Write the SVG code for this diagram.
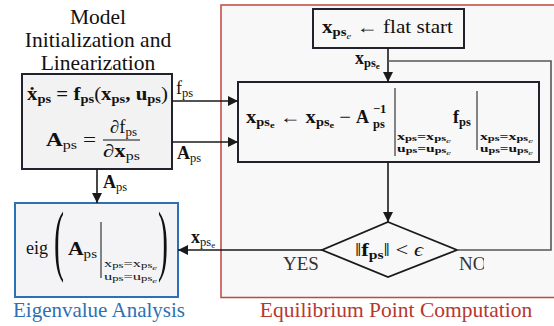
<svg xmlns="http://www.w3.org/2000/svg" width="554" height="326" viewBox="0 0 554 326">
<defs>
<marker id="ah" viewBox="0 0 10 10" refX="10" refY="5" markerWidth="10" markerHeight="10" markerUnits="userSpaceOnUse" orient="auto">
<path d="M0,0 L10,5 L0,10 z" fill="#1a1a1a"/>
</marker>
<clipPath id="noclip"><rect x="440" y="250" width="44" height="30"/></clipPath>
</defs>
<style>
text{font-family:'Liberation Serif','DejaVu Serif',serif;fill:#111}
.b{font-weight:bold}
.i{font-style:italic}
.m{font-size:18px}
.s{font-size:12.5px}
.ss{font-size:11px}
.cd{font-size:9.5px;font-weight:bold}
.c{stroke:#1a1a1a;stroke-width:1.6;fill:none}
.l{stroke:#555;stroke-width:1.6;fill:none}
</style>
<rect width="554" height="326" fill="#fff"/>

<g id="eq-region">
<rect x="221" y="5" width="340" height="292.5" fill="#f8f8f8" stroke="#c0473d" stroke-width="1.5"/>
<text x="396" y="317" font-size="21.5" text-anchor="middle" style="fill:#b8372f">Equilibrium Point Computation</text>
</g>

<g id="model">
<text x="98" y="24" font-size="21.5" text-anchor="middle">Model</text>
<text x="98" y="47" font-size="21.5" text-anchor="middle">Initialization and</text>
<text x="98" y="70" font-size="21.5" text-anchor="middle">Linearization</text>
<rect x="22" y="74" width="150" height="95" fill="#f2f2f3" stroke="#22222e" stroke-width="2"/>
<text class="b m" x="27" y="100" textLength="141" lengthAdjust="spacingAndGlyphs">ẋ<tspan class="s" dy="3">ps</tspan><tspan dy="-3"> = f</tspan><tspan class="s" dy="3">ps</tspan><tspan dy="-3" font-weight="normal">(</tspan>x<tspan class="s" dy="3">ps</tspan><tspan dy="-3">, u</tspan><tspan class="s" dy="3">ps</tspan><tspan dy="-3" font-weight="normal">)</tspan></text>
<text class="m" x="46" y="146" textLength="50" lengthAdjust="spacingAndGlyphs"><tspan class="b">A</tspan><tspan class="s" dy="3">ps</tspan><tspan dy="-3"> =</tspan></text>
<text class="m" x="110" y="133" textLength="27" lengthAdjust="spacingAndGlyphs"><tspan class="i">∂</tspan>f<tspan class="s" dy="3">ps</tspan></text>
<line x1="103" y1="140" x2="140" y2="140" stroke="#111" stroke-width="1"/>
<text class="m" x="103" y="157" textLength="37" lengthAdjust="spacingAndGlyphs"><tspan class="i">∂</tspan><tspan class="b">x</tspan><tspan class="s" dy="3">ps</tspan></text>
</g>

<g id="eigen">
<rect x="15" y="203" width="163" height="94" fill="#f4f4f6" stroke="#2e70b4" stroke-width="2"/>
<text class="m" x="26" y="254">eig</text>
<text font-size="30" transform="translate(54,266) scale(1,2.6)">(</text>
<text font-size="30" transform="translate(158,266) scale(1,2.6)">)</text>
<text class="m" x="68" y="255" textLength="29" lengthAdjust="spacingAndGlyphs"><tspan class="b">A</tspan><tspan class="s" dy="3">ps</tspan></text>
<line x1="101" y1="222" x2="101" y2="278" stroke="#111" stroke-width="1"/>
<text class="ss" x="104" y="267" textLength="53" lengthAdjust="spacingAndGlyphs">x<tspan font-size="8.5" dy="1">ps</tspan><tspan dy="-1">=x</tspan><tspan font-size="8.5" dy="1">ps</tspan><tspan class="i" font-size="7" dy="2">e</tspan></text>
<text class="ss" x="104" y="280" textLength="53" lengthAdjust="spacingAndGlyphs">u<tspan font-size="8.5" dy="1">ps</tspan><tspan dy="-1">=u</tspan><tspan font-size="8.5" dy="1">ps</tspan><tspan class="i" font-size="7" dy="2">e</tspan></text>
<text x="99" y="317" font-size="21" text-anchor="middle" style="fill:#2e70b4">Eigenvalue Analysis</text>
</g>

<g id="flat-start">
<rect x="313" y="9" width="151" height="39" fill="#f8f8f8" stroke="#22222e" stroke-width="2"/>
<text class="m" x="322" y="33" font-size="19" textLength="131" lengthAdjust="spacingAndGlyphs"><tspan class="b">x</tspan><tspan class="s b" dy="3">ps</tspan><tspan class="i" font-size="9" dy="3">e</tspan><tspan dy="-6"> ← flat start</tspan></text>
</g>

<g id="update">
<rect x="238" y="82" width="301" height="80" fill="#f8f8f8" stroke="#22222e" stroke-width="2"/>
<text class="m" x="246" y="123" textLength="105" lengthAdjust="spacingAndGlyphs"><tspan class="b">x</tspan><tspan class="s b" dy="3">ps</tspan><tspan class="b" font-size="9" dy="2">e</tspan><tspan dy="-5"> ← </tspan><tspan class="b">x</tspan><tspan class="s b" dy="3">ps</tspan><tspan class="b" font-size="9" dy="2">e</tspan><tspan dy="-5"> −</tspan></text>
<text class="m b" x="356" y="123">A</text>
<text class="s b" x="373" y="113">−1</text>
<text class="s b" x="373" y="128">ps</text>
<line x1="395" y1="88" x2="395" y2="156" stroke="#111" stroke-width="1"/>
<text class="cd" x="397" y="140" textLength="54" lengthAdjust="spacingAndGlyphs">x<tspan font-size="7.5" dy="1">ps</tspan><tspan dy="-1">=x</tspan><tspan font-size="7.5" dy="1">ps</tspan><tspan class="i" font-size="6.5" font-weight="normal" dy="1.5">e</tspan></text>
<text class="cd" x="397" y="152" textLength="54" lengthAdjust="spacingAndGlyphs">u<tspan font-size="7.5" dy="1">ps</tspan><tspan dy="-1">=u</tspan><tspan font-size="7.5" dy="1">ps</tspan><tspan class="i" font-size="6.5" font-weight="normal" dy="1.5">e</tspan></text>
<text class="m b" x="453" y="123">f<tspan class="s" dy="3">ps</tspan></text>
<line x1="477" y1="91" x2="477" y2="150" stroke="#111" stroke-width="1"/>
<text class="cd" x="480" y="140" textLength="53" lengthAdjust="spacingAndGlyphs">x<tspan font-size="7.5" dy="1">ps</tspan><tspan dy="-1">=x</tspan><tspan font-size="7.5" dy="1">ps</tspan><tspan class="i" font-size="6.5" font-weight="normal" dy="1.5">e</tspan></text>
<text class="cd" x="480" y="152" textLength="53" lengthAdjust="spacingAndGlyphs">u<tspan font-size="7.5" dy="1">ps</tspan><tspan dy="-1">=u</tspan><tspan font-size="7.5" dy="1">ps</tspan><tspan class="i" font-size="6.5" font-weight="normal" dy="1.5">e</tspan></text>
</g>

<g id="decision">
<polygon points="388,222 457,250 388,277 322,250" fill="#f8f8f8" stroke="#1a1a1a" stroke-width="1.8"/>
<text class="m" x="355" y="256" textLength="68" lengthAdjust="spacingAndGlyphs">‖<tspan class="b">f</tspan><tspan class="s b" dy="3">ps</tspan><tspan dy="-3">‖ &lt; </tspan><tspan class="i">ϵ</tspan></text>
<text x="283" y="270" font-size="19" style="fill:#333">YES</text>
<text x="459" y="270" font-size="19" style="fill:#333" clip-path="url(#noclip)">NO</text>
</g>

<g id="connectors">
<line class="c" x1="172" y1="101" x2="238" y2="101" marker-end="url(#ah)"/>
<line class="c" x1="172" y1="142" x2="238" y2="142" marker-end="url(#ah)"/>
<line class="c" x1="97" y1="169" x2="97" y2="203" marker-end="url(#ah)"/>
<line class="c" x1="388" y1="48" x2="388" y2="82" marker-end="url(#ah)"/>
<line class="c" x1="388" y1="162" x2="388" y2="222" marker-end="url(#ah)"/>
<line class="c" x1="322" y1="250" x2="178" y2="250" marker-end="url(#ah)"/>
<polyline class="l" points="457,250 551,250 551,61 388,61"/>
<text class="m" x="176" y="94">f<tspan class="s" dy="3">ps</tspan></text>
<text class="m b" x="177" y="159">A<tspan class="s" font-weight="normal" dy="3">ps</tspan></text>
<text class="m b" x="103" y="188">A<tspan class="s" font-weight="normal" dy="3">ps</tspan></text>
<text class="m b" x="355" y="64">x<tspan class="s" dy="3">ps</tspan><tspan font-size="9" dy="2">e</tspan></text>
<text class="m b" x="191" y="243">x<tspan class="s" font-weight="normal" dy="3">ps</tspan><tspan font-size="9" font-weight="normal" dy="2">e</tspan></text>
</g>
</svg>
